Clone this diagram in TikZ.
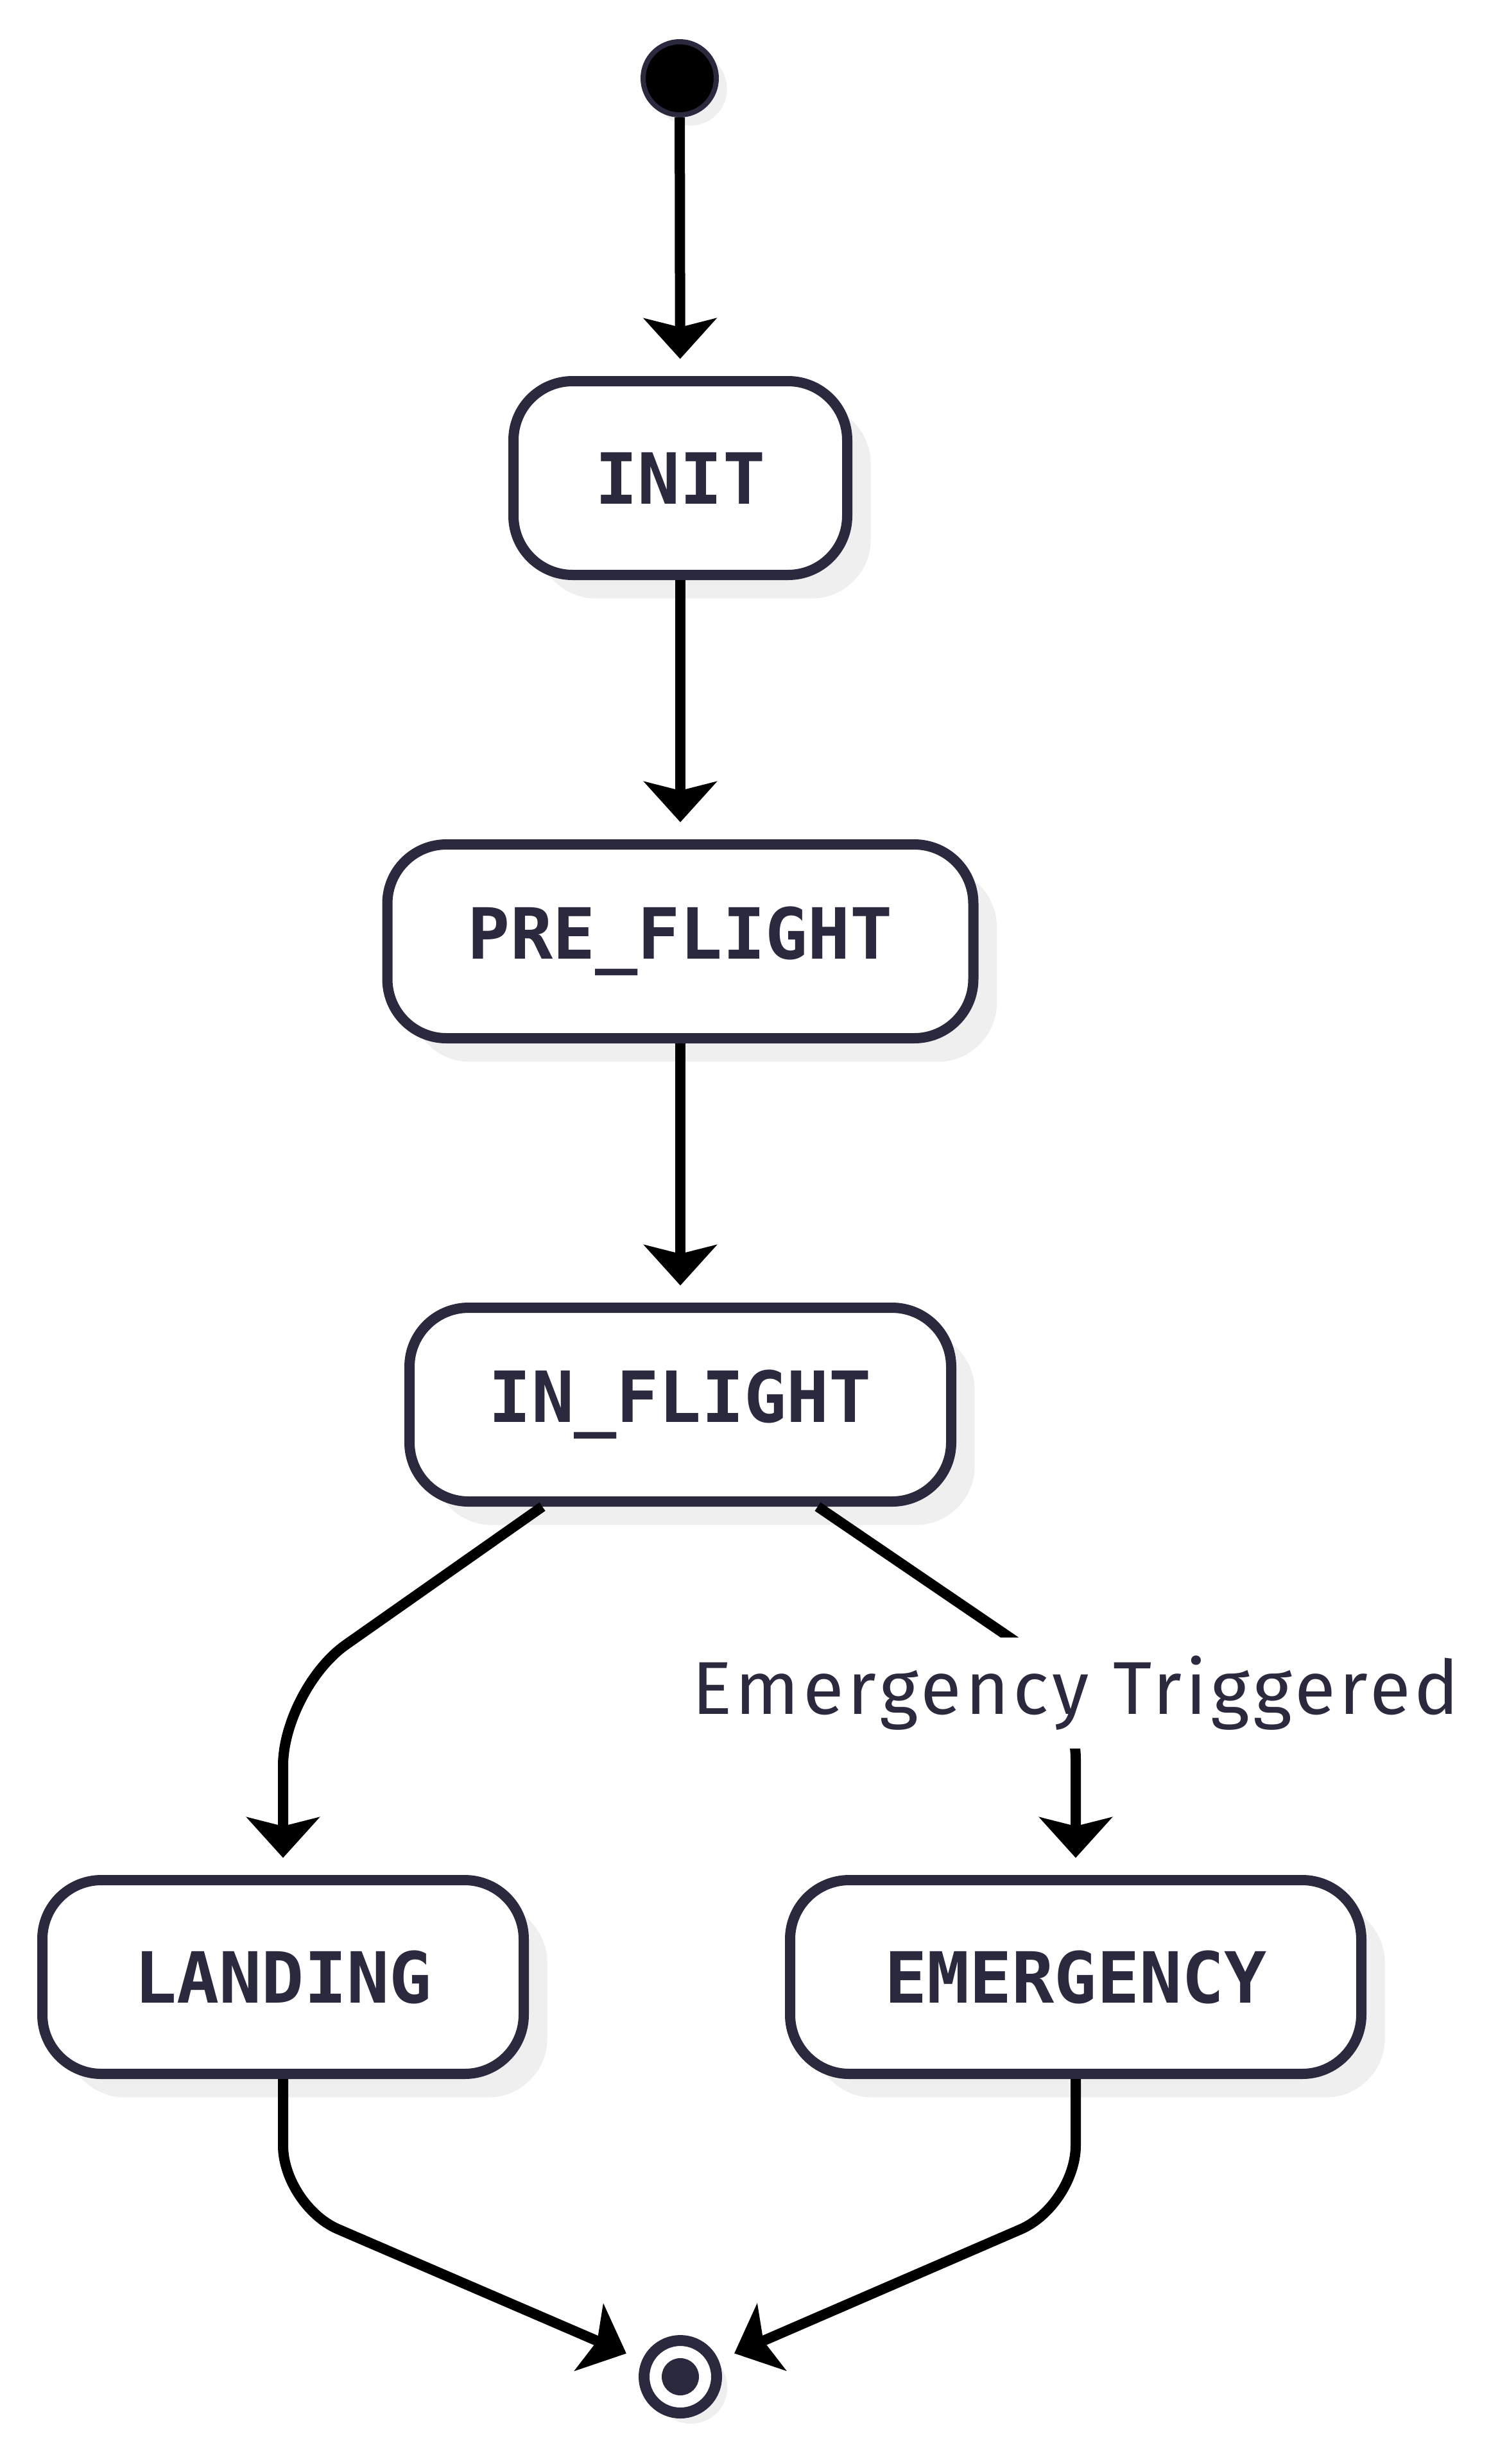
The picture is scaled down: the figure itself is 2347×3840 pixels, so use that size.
\documentclass[tikz,border=0pt]{standalone}
\usepackage{fontspec}
\usepackage{xcolor}
\usepackage{tikz}
\usetikzlibrary{arrows.meta, positioning, shadows}
\newfontfamily\statefont{DejaVu Sans Mono}
\newfontfamily\guardfont{Fira Sans}[LetterSpace=5]
\definecolor{inkNavy}{HTML}{2A293E}
\definecolor{shadowGray}{HTML}{EFEFEF}

\begin{document}
\begin{tikzpicture}[x=0.3pt, y=-0.3pt,
  state/.style={draw=inkNavy, line width=4.8pt, fill=white, rounded corners=27.6pt,
    minimum height=90.6pt, inner sep=0pt, text=inkNavy,
    font=\statefont\bfseries\fontsize{33}{40}\selectfont,
    drop shadow={shadow xshift=11pt, shadow yshift=-11pt, fill=shadowGray, opacity=1}},
  initial/.style={circle, fill=black, draw=inkNavy, line width=2.4pt, minimum size=34.2pt, inner sep=0pt,
    drop shadow={shadow xshift=5pt, shadow yshift=-5pt, fill=shadowGray, opacity=1}},
  finalring/.style={circle, fill=white, draw=inkNavy, line width=5.1pt, minimum size=33.9pt, inner sep=0pt,
    drop shadow={shadow xshift=5pt, shadow yshift=-5pt, fill=shadowGray, opacity=1}},
  finaldot/.style={circle, fill=inkNavy, minimum size=17.4pt, inner sep=0pt},
  trans/.style={draw=black, line width=4.8pt, -{Stealth[length=19pt, width=34pt, inset=4.2pt]}, shorten >=8pt},
  guard/.style={fill=white, text=inkNavy, font=\guardfont\fontsize{35}{42}\selectfont,
    minimum height=51.9pt, inner xsep=6pt, inner ysep=0pt}]
% Canvas
\path[use as bounding box, fill=white] (0,0) rectangle (2347,3840);
% States
\node[initial] (start) at (1059,122) {};
\node[state, minimum width=156pt] (init) at (1060,745) {INIT};
\node[state, minimum width=273.9pt] (preflight) at (1060,1467) {PRE\_FLIGHT};
\node[state, minimum width=253.2pt] (inflight) at (1060,2189) {IN\_FLIGHT};
\node[state, minimum width=225pt] (landing) at (441,3081) {LANDING};
\node[state, minimum width=267pt] (emergency) at (1676,3081) {EMERGENCY};
\node[finalring] (final) at (1060,3704) {};
\node[finaldot] (finaldot) at (final.center) {};
% Bends
\coordinate (leftbend) at (441,2632);
\coordinate (rightbend) at (1676,2622);
\coordinate (lowleft) at (441,3437);
\coordinate (lowright) at (1676,3437);
% Transitions
\draw[trans] (start) -- (init);
\draw[trans] (init) -- (preflight);
\draw[trans] (preflight) -- (inflight);
\draw[trans, rounded corners=36pt] ([xshift=-64.5pt]inflight.south) -- (leftbend) -- (landing);
\draw[trans, rounded corners=36pt] ([xshift=64.2pt]inflight.south) -- (rightbend) -- (emergency);
\node[guard] (guardlbl) at (1676,2638) {Emergency Triggered};
\draw[trans, rounded corners=28pt] (landing) -- (lowleft) -- (final);
\draw[trans, rounded corners=28pt] (emergency) -- (lowright) -- (final);
\end{tikzpicture}
\end{document}
